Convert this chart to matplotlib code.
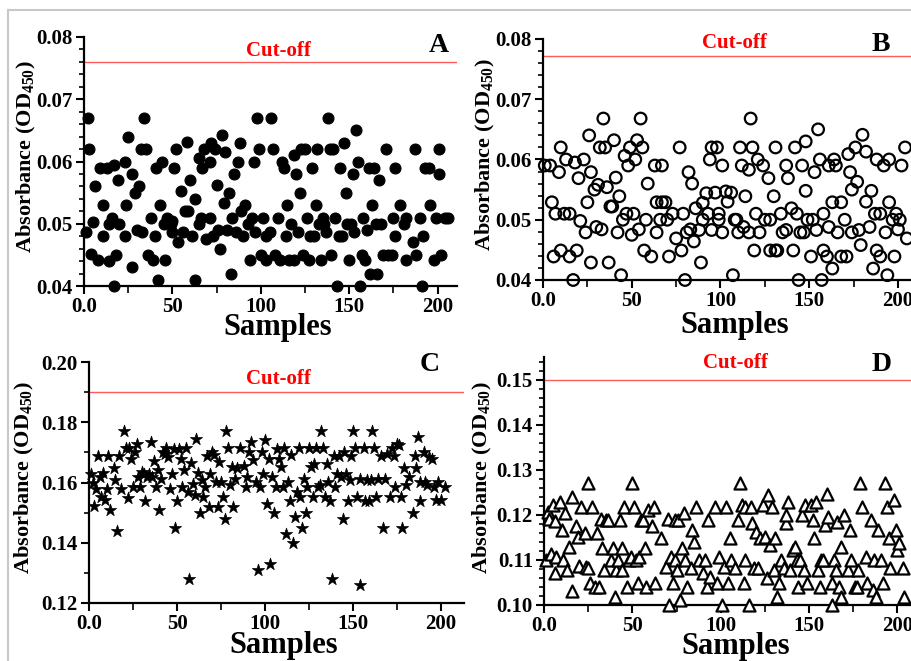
import matplotlib
matplotlib.use("Agg")
import matplotlib.pyplot as plt
from matplotlib.ticker import MultipleLocator, FixedLocator, FixedFormatter, FormatStrFormatter
from matplotlib.lines import Line2D

plt.rcParams['font.family'] = ['Liberation Serif', 'DejaVu Serif']
plt.rcParams['font.weight'] = 'bold'
plt.rcParams['mathtext.fontset'] = 'custom'
plt.rcParams['mathtext.rm'] = 'Liberation Serif:bold'
plt.rcParams['mathtext.it'] = 'Liberation Serif:bold'
plt.rcParams['mathtext.bf'] = 'Liberation Serif:bold'

# ---------------- data ----------------
A_x = [1,2,3,4,5,6,8,9,11,11,13,14,14,16,17,17,18,19,20,23,23,24,25,27,27,29,30,31,32,33,34,35,36,38,39,40,41,42,43,44,45,46,47,49,50,50,51,52,53,55,56,57,58,59,60,61,63,63,65,65,66,67,68,69,71,71,72,73,74,75,76,77,78,79,80,81,82,83,84,85,86,87,88,89,90,91,93,94,95,96,97,98,99,100,101,103,103,105,106,107,108,110,111,112,113,114,115,116,117,119,119,120,121,122,123,124,125,126,127,128,129,130,131,132,133,134,135,136,137,138,139,140,141,142,143,144,145,146,147,148,149,150,151,152,153,154,155,156,157,158,159,160,161,162,163,164,165,166,167,168,169,171,172,174,175,176,176,179,181,182,182,186,187,188,190,191,192,193,195,196,198,199,201,201,202,204,206]
A_y = [0.0486,0.067,0.062,0.0451,0.0503,0.056,0.0441,0.059,0.048,0.053,0.059,0.044,0.050,0.051,0.040,0.0595,0.045,0.057,0.050,0.060,0.048,0.053,0.064,0.043,0.058,0.055,0.049,0.056,0.062,0.0486,0.067,0.062,0.045,0.051,0.0441,0.048,0.059,0.041,0.053,0.060,0.050,0.0441,0.051,0.050,0.0486,0.0505,0.059,0.062,0.047,0.0553,0.0486,0.052,0.0632,0.052,0.057,0.048,0.054,0.041,0.050,0.0605,0.051,0.059,0.062,0.0475,0.051,0.060,0.063,0.048,0.062,0.0562,0.049,0.046,0.0643,0.0533,0.0615,0.049,0.055,0.042,0.051,0.058,0.0486,0.060,0.063,0.052,0.048,0.053,0.050,0.0441,0.051,0.060,0.0486,0.067,0.062,0.045,0.051,0.0441,0.048,0.0486,0.067,0.062,0.045,0.051,0.0441,0.060,0.059,0.048,0.053,0.0441,0.050,0.0441,0.061,0.058,0.0486,0.055,0.062,0.045,0.062,0.051,0.0441,0.048,0.059,0.048,0.053,0.062,0.050,0.0441,0.051,0.050,0.0486,0.067,0.062,0.045,0.062,0.051,0.040,0.048,0.059,0.048,0.063,0.055,0.050,0.0441,0.050,0.058,0.0486,0.065,0.060,0.040,0.045,0.051,0.0441,0.049,0.059,0.042,0.053,0.059,0.050,0.042,0.057,0.050,0.045,0.062,0.045,0.045,0.051,0.059,0.048,0.053,0.050,0.0441,0.051,0.047,0.062,0.045,0.051,0.040,0.048,0.059,0.059,0.053,0.0441,0.051,0.058,0.062,0.045,0.051,0.051]

B_x = [1,4,5,6,7,9,10,10,12,13,15,15,17,18,19,20,21,23,24,25,26,27,27,29,30,31,32,33,34,35,36,37,38,39,40,41,42,43,44,45,46,47,48,49,50,51,52,53,54,55,56,57,58,59,61,63,64,64,66,67,67,69,70,71,73,75,77,78,79,80,81,82,83,84,85,86,88,89,90,90,92,93,94,95,95,97,98,99,99,101,101,103,104,106,107,108,109,110,111,112,113,114,116,116,117,118,119,120,121,122,124,125,127,128,128,130,131,131,132,134,135,137,137,138,140,141,142,143,144,145,146,147,148,148,149,151,152,153,154,155,156,157,158,158,160,161,161,163,163,164,165,166,168,168,170,171,172,173,174,174,176,177,178,179,180,182,182,184,185,186,187,188,188,190,190,192,193,194,195,195,197,198,199,200,201,202,204,205]
B_y = [0.059,0.059,0.0529,0.0439,0.051,0.0579,0.062,0.0449,0.051,0.060,0.0439,0.051,0.040,0.0595,0.0449,0.0569,0.0498,0.060,0.0479,0.0529,0.064,0.0429,0.0579,0.055,0.0488,0.0558,0.062,0.0484,0.0668,0.062,0.0554,0.0429,0.0522,0.0522,0.0632,0.057,0.0479,0.0539,0.0408,0.050,0.0606,0.051,0.059,0.062,0.0475,0.051,0.060,0.0632,0.0484,0.0668,0.062,0.0449,0.050,0.056,0.0439,0.059,0.0479,0.0529,0.050,0.059,0.0529,0.0529,0.050,0.0439,0.051,0.0469,0.062,0.0449,0.051,0.040,0.0479,0.0579,0.0484,0.056,0.0464,0.0519,0.0483,0.0429,0.0528,0.050,0.0544,0.051,0.060,0.062,0.0483,0.0545,0.062,0.051,0.050,0.0479,0.059,0.0547,0.053,0.0545,0.0408,0.050,0.050,0.0479,0.062,0.059,0.0488,0.0539,0.0583,0.0479,0.0668,0.062,0.0449,0.051,0.060,0.0479,0.059,0.050,0.0569,0.050,0.0449,0.0539,0.062,0.0449,0.0449,0.051,0.0479,0.059,0.0483,0.0569,0.0519,0.0449,0.062,0.051,0.040,0.0479,0.059,0.0479,0.063,0.0548,0.050,0.0439,0.050,0.0579,0.0483,0.065,0.060,0.040,0.0449,0.051,0.0439,0.059,0.0488,0.0419,0.0529,0.060,0.059,0.0479,0.0529,0.0439,0.050,0.0439,0.0609,0.0579,0.0479,0.055,0.062,0.0563,0.0483,0.0458,0.0641,0.053,0.0613,0.0488,0.0548,0.0419,0.051,0.0449,0.060,0.051,0.0439,0.059,0.0479,0.0408,0.0529,0.060,0.050,0.0439,0.051,0.0484,0.050,0.059,0.062,0.0469]

C_x = [1,2,3,4,5,6,7,8,9,10,11,12,14,15,16,17,18,20,21,22,23,24,25,26,27,28,29,30,31,32,33,34,35,36,37,38,39,40,41,42,43,44,45,46,47,48,49,50,51,52,53,54,55,56,57,58,59,60,61,62,63,64,65,66,67,68,69,70,71,72,73,74,75,76,77,78,79,80,81,82,83,84,86,88,89,90,91,92,93,95,96,97,98,99,100,101,102,103,104,105,106,107,108,109,110,111,112,113,114,115,116,117,118,119,120,121,122,123,124,125,126,127,128,129,130,131,132,133,134,135,136,137,138,139,140,141,142,143,144,145,146,147,148,149,150,151,152,154,154,156,157,158,159,160,161,162,163,164,166,167,168,169,171,172,173,174,175,176,177,178,179,180,182,184,185,186,187,188,188,190,191,192,193,195,196,197,198,200,202]
C_y = [0.1629,0.160,0.1521,0.158,0.1687,0.1618,0.1552,0.1632,0.1541,0.158,0.1687,0.1508,0.1649,0.1608,0.1439,0.1687,0.158,0.1771,0.1716,0.1550,0.1716,0.1679,0.1585,0.1701,0.1729,0.1618,0.1585,0.1635,0.1629,0.1539,0.1618,0.1627,0.1734,0.1618,0.1671,0.1585,0.1640,0.1508,0.1613,0.1701,0.1696,0.1716,0.1685,0.158,0.1627,0.1712,0.145,0.1539,0.1712,0.1679,0.1585,0.1640,0.1716,0.1568,0.1281,0.1665,0.1596,0.156,0.1745,0.1632,0.1499,0.1608,0.1552,0.1585,0.1687,0.1519,0.1627,0.1701,0.1690,0.1602,0.1519,0.1668,0.1602,0.1552,0.1480,0.1771,0.1716,0.1591,0.1651,0.1519,0.1613,0.1649,0.1716,0.1654,0.1585,0.1618,0.1701,0.1734,0.1674,0.1602,0.1311,0.1585,0.1701,0.1629,0.1742,0.1530,0.1679,0.1328,0.1618,0.1499,0.1585,0.1712,0.1679,0.1651,0.1585,0.1716,0.1430,0.1602,0.1539,0.1690,0.1399,0.1485,0.1568,0.1716,0.1552,0.145,0.1613,0.1499,0.1585,0.1716,0.1651,0.1552,0.1663,0.1716,0.1585,0.1591,0.1771,0.1716,0.1552,0.1663,0.1602,0.1539,0.1281,0.1687,0.1585,0.1629,0.1687,0.1618,0.1480,0.1701,0.1627,0.1539,0.1608,0.1687,0.1771,0.1716,0.1552,0.1259,0.1613,0.1716,0.1539,0.1608,0.1539,0.1608,0.1771,0.1716,0.1552,0.1613,0.1687,0.145,0.1613,0.1696,0.1552,0.1716,0.1687,0.1585,0.1729,0.1723,0.1552,0.145,0.1649,0.1591,0.1618,0.1499,0.1687,0.1649,0.1751,0.1602,0.1539,0.1701,0.1602,0.1591,0.1685,0.1679,0.1585,0.1541,0.1602,0.1541,0.1585]

D_x = [1,2,3,4,5,6,6,7,9,10,11,12,13,14,16,16,18,19,20,21,23,24,25,25,26,27,29,30,31,32,33,34,35,36,38,39,40,41,42,43,44,44,45,47,48,49,50,51,52,53,54,55,56,57,58,59,61,62,63,66,69,70,71,72,73,74,74,75,76,77,78,79,80,81,83,84,85,86,88,90,91,92,93,94,97,98,99,101,102,103,104,105,106,108,110,111,112,113,114,114,116,117,118,119,120,121,122,124,125,126,127,128,129,130,131,132,133,134,136,137,137,138,139,141,142,143,144,145,146,147,148,149,151,152,153,154,155,156,157,158,159,160,161,163,163,164,165,166,167,168,168,170,172,173,174,176,177,178,179,180,182,183,185,186,187,188,189,191,192,193,194,195,196,198,199,200,201,203,204]
D_y = [0.110,0.1207,0.119,0.1113,0.1222,0.1072,0.1187,0.1107,0.1229,0.1166,0.110,0.1203,0.1078,0.1129,0.1239,0.1030,0.1175,0.115,0.1086,0.1218,0.116,0.1085,0.1081,0.127,0.1048,0.1218,0.1041,0.1159,0.1039,0.119,0.1126,0.1078,0.1188,0.1188,0.110,0.1126,0.1018,0.1078,0.110,0.1188,0.1078,0.1126,0.1218,0.1041,0.110,0.1107,0.127,0.1218,0.110,0.1048,0.1107,0.1188,0.1188,0.1126,0.1041,0.1210,0.1175,0.1218,0.1048,0.1148,0.1085,0.119,0.100,0.1107,0.1048,0.110,0.1188,0.1078,0.1188,0.1011,0.1126,0.1203,0.110,0.1041,0.1081,0.1166,0.114,0.1218,0.110,0.1070,0.110,0.1041,0.1188,0.1063,0.1218,0.1048,0.1107,0.100,0.1085,0.1218,0.1048,0.1148,0.110,0.1081,0.1188,0.127,0.1222,0.1048,0.1218,0.110,0.100,0.1218,0.1181,0.1081,0.1162,0.1081,0.1148,0.1222,0.1151,0.1059,0.1244,0.1133,0.1218,0.1078,0.1148,0.1018,0.1048,0.110,0.1081,0.1181,0.1199,0.1229,0.1078,0.1122,0.1129,0.110,0.1041,0.110,0.1199,0.1078,0.1222,0.1048,0.1222,0.1188,0.1148,0.1229,0.1078,0.1041,0.110,0.110,0.1177,0.1247,0.1196,0.100,0.1048,0.110,0.1078,0.1185,0.1041,0.1018,0.1129,0.1199,0.1078,0.1166,0.110,0.1041,0.1041,0.1078,0.127,0.1218,0.1107,0.1048,0.1188,0.1033,0.110,0.1018,0.1166,0.110,0.1048,0.127,0.1218,0.1148,0.1081,0.1233,0.1166,0.1122,0.1137,0.1081,0.1018]

cutoffs = {'A': 0.076, 'B': 0.0772, 'C': 0.190, 'D': 0.150}
x_ticks = [0, 50, 100, 150, 200]
x_tick_labels = ['0.0', '50', '100', '150', '200']

# ---------------- figure ----------------
W, H = 912, 661
fig = plt.figure(figsize=(W / 100, H / 100), dpi=100)
fig.patch.set_facecolor('white')

# light gray frame (top and left)
fig.add_artist(Line2D([8 / W, 1], [1 - 10 / H, 1 - 10 / H], color='#c8c8c8', lw=1.5, transform=fig.transFigure))
fig.add_artist(Line2D([8 / W, 8 / W], [0, 1 - 10 / H], color='#c8c8c8', lw=1.5, transform=fig.transFigure))


def make_ax(left, right, top, bottom):
    return fig.add_axes([left / W, 1 - bottom / H, (right - left) / W, (bottom - top) / H])


panels = [
    # key, box(l,r,t,b px), xmax, ylim, major, minor, marker kw, data,
    # ylabel pos, xlabel pos, letter pos, (cutoff x, cutoff offset px)
    ('A', (84, 457, 37, 286), 211, (0.04, 0.08), 0.01, 0.002,
     dict(marker='o', s=62, facecolors='black', edgecolors='black', linewidths=0.8), (A_x, A_y),
     (-0.153, 0.518), (0.52, -0.165), (0.95, 1.016), (0.52, 11)),
    ('B', (543, 912, 39, 280), 207.9, (0.04, 0.08), 0.01, 0.002,
     dict(marker='o', s=70, facecolors='none', edgecolors='black', linewidths=1.6), (B_x, B_y),
     (-0.157, 0.52), (0.52, -0.19), (0.916, 1.029), (0.52, 13)),
    ('C', (89, 464, 362, 603), 213, (0.12, 0.20), 0.02, 0.01,
     dict(marker='*', s=85, facecolors='black', edgecolors='black', linewidths=0.5), (C_x, C_y),
     (-0.171, 0.519), (0.52, -0.178), (0.909, 1.041), (0.505, 13)),
    ('D', (544, 912, 357, 605), 208.3, (0.10, 0.155), 0.01, 0.002,
     dict(marker='^', s=75, facecolors='white', edgecolors='black', linewidths=1.6), (D_x, D_y),
     (-0.168, 0.514), (0.52, -0.168), (0.916, 1.02), (0.52, 17)),
]

for key, box, xmax, ylim, major, minor, mkw, (xs, ys), ylp, xlp, letpos, cut in panels:
    ax = make_ax(*box)
    ax.set_xlim(0, xmax)
    ax.set_ylim(*ylim)
    for s in ('top', 'right'):
        ax.spines[s].set_visible(False)
    for s in ('left', 'bottom'):
        ax.spines[s].set_linewidth(1.6)
    ax.scatter(xs, ys, zorder=3, clip_on=False, **mkw)
    ax.axhline(cutoffs[key], color='#ff5a5a', lw=1.0, zorder=2)
    ax.annotate('Cut-off', xy=(cut[0], cutoffs[key]), xycoords=('axes fraction', 'data'),
                xytext=(0, cut[1] * 0.72), textcoords='offset points', ha='center', va='center',
                color='#ff0000', fontsize=15, fontweight='bold')
    ax.text(letpos[0], letpos[1], key, transform=ax.transAxes, ha='center', va='top',
            fontsize=20, fontweight='bold')

    ax.xaxis.set_major_locator(FixedLocator(x_ticks))
    ax.xaxis.set_major_formatter(FixedFormatter(x_tick_labels))
    ax.xaxis.set_minor_locator(MultipleLocator(25))
    ax.yaxis.set_major_locator(MultipleLocator(major))
    ax.yaxis.set_minor_locator(MultipleLocator(minor))
    ax.yaxis.set_major_formatter(FormatStrFormatter('%.2f'))
    ax.tick_params(which='major', direction='out', length=6, width=1.5, labelsize=15, pad=2)
    ax.tick_params(which='minor', direction='out', length=3.5, width=1.2)
    ax.tick_params(axis='x', which='minor', length=5)
    for lab in ax.get_xticklabels() + ax.get_yticklabels():
        lab.set_fontweight('bold')

    ax.set_ylabel('Absorbance (OD$_{450}$)', fontsize=16, fontweight='bold')
    ax.yaxis.set_label_coords(*ylp)
    ax.set_xlabel('Samples', fontsize=22, fontweight='bold')
    ax.xaxis.set_label_coords(*xlp)
    ax.xaxis.label.set_va('center')
    ax.yaxis.label.set_va('center')

fig.savefig('out.png', dpi=100, facecolor='white')
